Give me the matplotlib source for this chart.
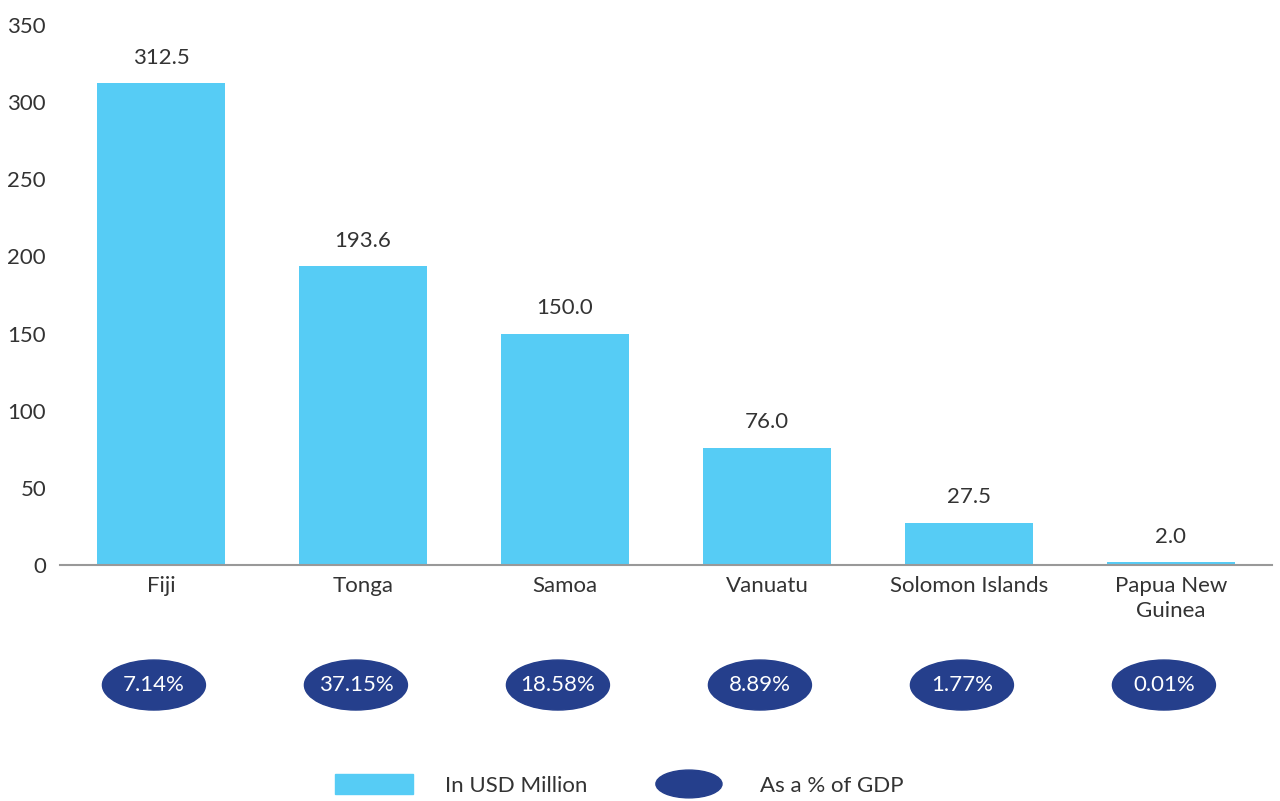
import matplotlib
matplotlib.use('Agg')
import matplotlib.pyplot as plt
from matplotlib.patches import Ellipse, Patch
from matplotlib.legend_handler import HandlerPatch

countries = ['Fiji', 'Tonga', 'Samoa', 'Vanuatu', 'Solomon Islands', 'Papua New\nGuinea']
usd_million = [312.5, 193.6, 150.0, 76.0, 27.5, 2.0]
pct_gdp = ['7.14%', '37.15%', '18.58%', '8.89%', '1.77%', '0.01%']
y_ticks = [0, 50, 100, 150, 200, 250, 300, 350]

light_blue = '#56CCF5'
dark_blue = '#253F8C'
text_col = '#333333'
fs = 16

plt.rcParams['font.family'] = ['Lato', 'DejaVu Sans']

fig = plt.figure(figsize=(12.8, 8.01), dpi=100)
ax = fig.add_axes([60 / 1280, 236 / 801, 1212 / 1280, 540 / 801])

x = list(range(len(countries)))
bars = ax.bar(x, usd_million, width=0.635, color=light_blue)

for xi, v in zip(x, usd_million):
    ax.annotate(f'{v:.1f}', (xi, v), xytext=(0, 11), textcoords='offset points',
                ha='center', va='bottom', fontsize=fs, color=text_col)

# % of GDP ovals below the category labels (sit a touch left of the bars)
for xi, p in zip(x, pct_gdp):
    e = Ellipse((xi - 0.035, -77.8), 0.51, 32.4, color=dark_blue, clip_on=False)
    ax.add_patch(e)
    ax.text(xi - 0.035, -77.8, p, ha='center', va='center', color='white', fontsize=fs)

ax.set_xlim(-0.5, 5.5)
ax.set_ylim(0, 350)
ax.set_yticks(y_ticks)
ax.set_xticks(x)
ax.set_xticklabels(countries, fontsize=fs, color=text_col, linespacing=1.3)
ax.tick_params(axis='y', length=0, labelsize=fs, labelcolor=text_col, pad=10)
ax.tick_params(axis='x', length=0, pad=8)
for s in ['top', 'right', 'left']:
    ax.spines[s].set_visible(False)
ax.spines['bottom'].set_color('#999999')
ax.spines['bottom'].set_linewidth(1.5)


class HandlerEllipse(HandlerPatch):
    def create_artists(self, legend, orig_handle, xdescent, ydescent,
                       width, height, fontsize, trans):
        cx = 0.5 * width - xdescent
        cy = 0.5 * height - ydescent
        p = Ellipse((cx, cy), width * 0.85, height * 1.45)
        self.update_prop(p, orig_handle, legend)
        p.set_transform(trans)
        return [p]


h1 = Patch(color=light_blue, label='In USD Million')
h2 = Ellipse((0, 0), 1, 1, color=dark_blue, label='As a % of GDP')
fig.legend(handles=[h1, h2], loc='center', bbox_to_anchor=(0.484, 16 / 801),
           ncol=2, frameon=False, fontsize=fs, handlelength=3.5, handleheight=0.95,
           handletextpad=1.45, columnspacing=2.8, labelcolor=text_col,
           borderpad=0, handler_map={Ellipse: HandlerEllipse()})

fig.savefig('out.png', dpi=100)
